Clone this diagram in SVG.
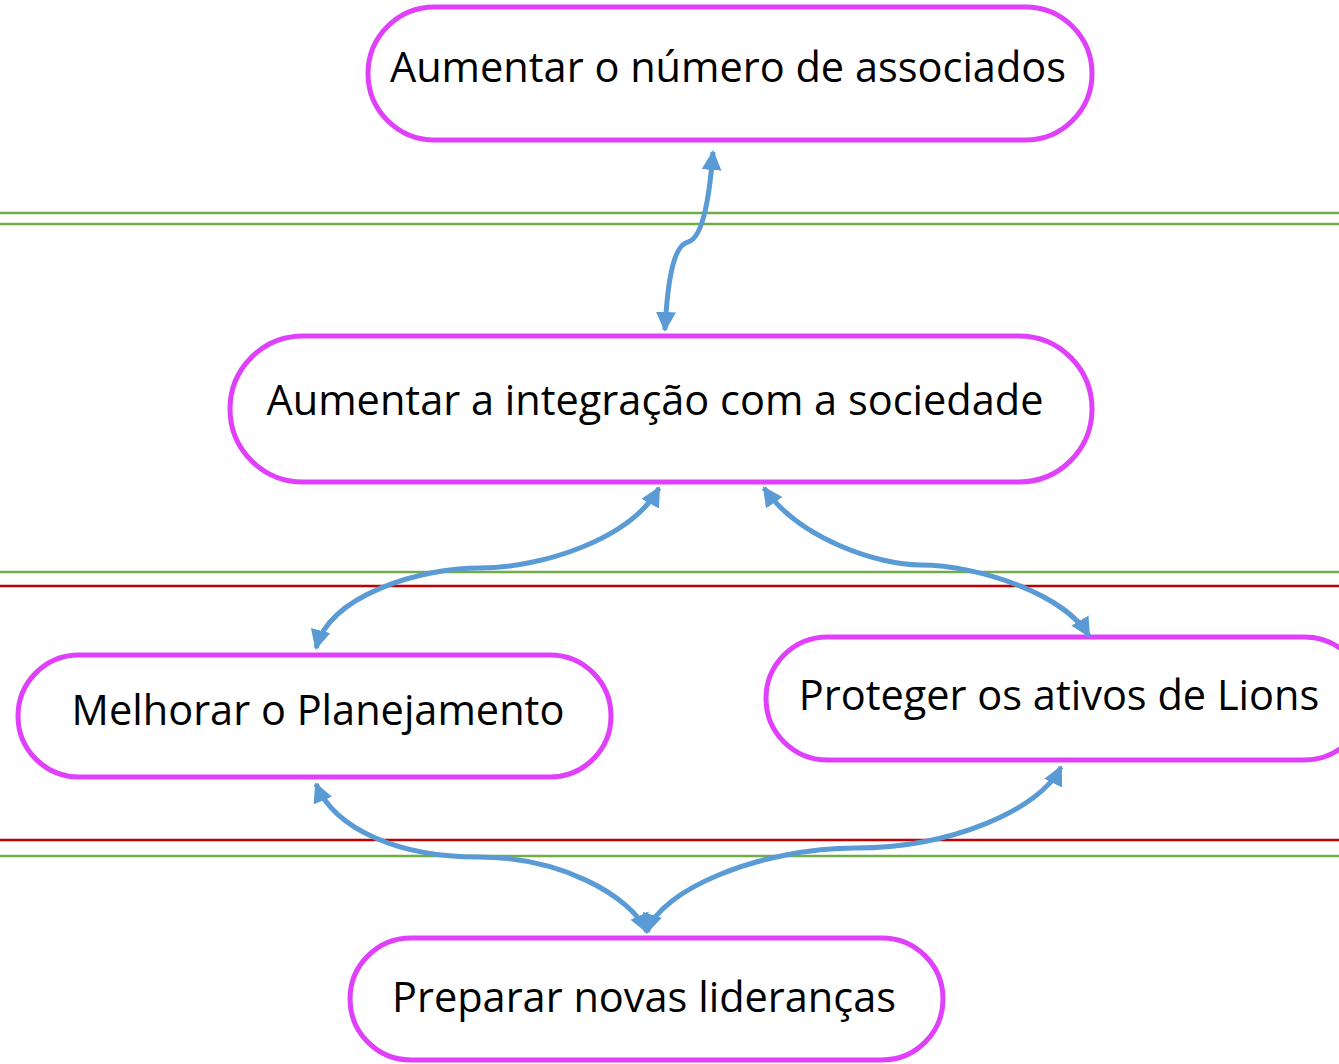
<svg xmlns="http://www.w3.org/2000/svg" width="1339" height="1064" viewBox="0 0 1339 1064">
<style>
.node{fill:#fff;stroke:#E040FB;stroke-width:5}
.lbl{font-family:"Open Sans","Liberation Sans",sans-serif;font-size:41.5px;fill:#000;text-anchor:middle}
.conn{fill:none;stroke:#5B9BD5;stroke-width:5;marker-start:url(#ah);marker-end:url(#ah)}
.g{stroke:#70AD47;stroke-width:2.5}
.r{stroke:#C00000;stroke-width:2.5}
</style>
<defs>
<marker id="ah" viewBox="0 0 10 10" refX="9" refY="5" markerWidth="4" markerHeight="4" orient="auto-start-reverse" markerUnits="strokeWidth">
<path d="M0,0 L10,5 L0,10 z" fill="#5B9BD5"/>
</marker>
</defs>
<rect width="1339" height="1064" fill="#fff"/>
<g id="guides">
<line class="g" x1="0" y1="213" x2="1339" y2="213"/>
<line class="g" x1="0" y1="224" x2="1339" y2="224"/>
<line class="g" x1="0" y1="572" x2="1339" y2="572"/>
<line class="r" x1="0" y1="586" x2="1339" y2="586"/>
<line class="r" x1="0" y1="840" x2="1339" y2="840"/>
<line class="g" x1="0" y1="856" x2="1339" y2="856"/>
</g>
<g id="n1"><rect class="node" x="368" y="7" width="724" height="133" rx="66.5"/><text class="lbl" x="728" y="82">Aumentar o número de associados</text></g>
<g id="n2"><rect class="node" x="230" y="336" width="862" height="146" rx="73"/><text class="lbl" x="655" y="415">Aumentar a integração com a sociedade</text></g>
<g id="n3"><rect class="node" x="18" y="655" width="593" height="122" rx="61"/><text class="lbl" x="318" y="725">Melhorar o Planejamento</text></g>
<g id="n4"><rect class="node" x="766" y="637" width="600" height="123" rx="61.5"/><text class="lbl" x="1059" y="710">Proteger os ativos de Lions</text></g>
<g id="n5"><rect class="node" x="350" y="938" width="593" height="122" rx="61"/><text class="lbl" x="644" y="1012">Preparar novas lideranças</text></g>
<g id="connectors">
<path class="conn" d="M665,330 C667,290 672,245 688,242 C704,238 710,190 713,152"/>
<path class="conn" d="M659,488 C630,540 540,568 480,568 C420,568 330,595 316,648"/>
<path class="conn" d="M764,488 C800,540 880,565 920,565 C980,565 1065,595 1089,636"/>
<path class="conn" d="M316,784 C335,830 400,857 478,857 C560,857 630,895 647,932"/>
<path class="conn" d="M1061,767 C1040,810 950,848 856,848 C760,848 660,890 647,932"/>
</g>
</svg>
